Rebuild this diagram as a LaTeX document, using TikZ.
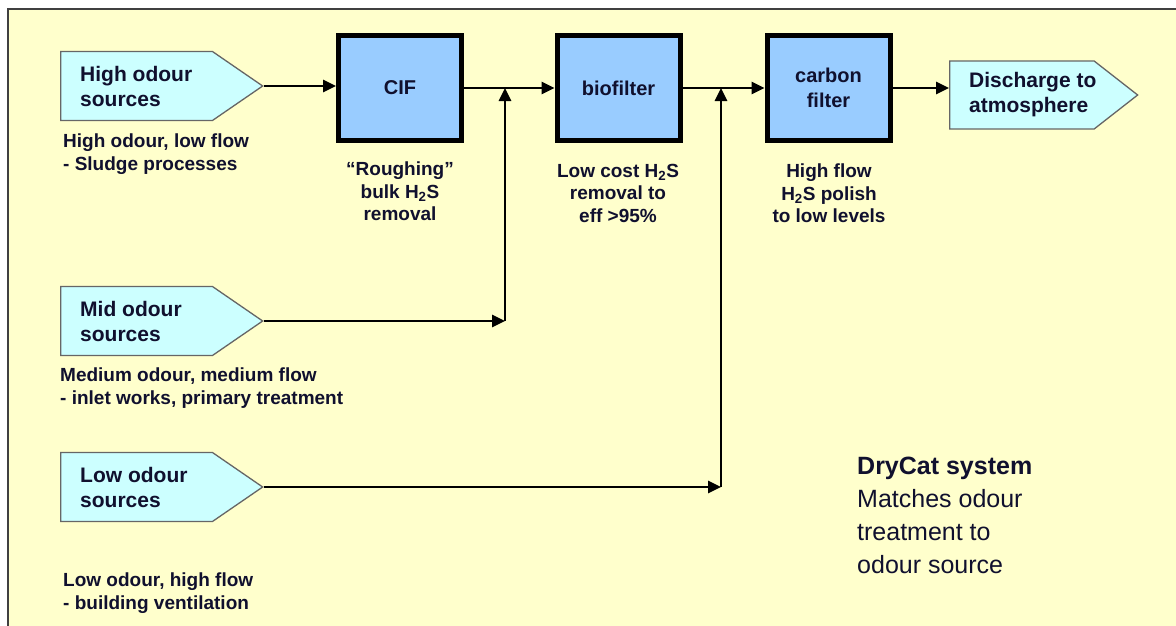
\documentclass[tikz,border=0pt]{standalone}
\usepackage{fontspec}
\setmainfont{Liberation Sans}
\usetikzlibrary{arrows.meta,shapes.symbols}
\definecolor{paper}{HTML}{FFFFCC}
\definecolor{srcfill}{HTML}{CCFFFF}
\definecolor{unitfill}{HTML}{99CCFF}
\definecolor{ink}{HTML}{10102E}
\newcommand{\hts}{H\textsubscript{2}S}
\begin{document}
\begin{tikzpicture}[x=1pt,y=-1pt,
		src/.style={shape=signal, signal to=east, signal pointer angle=69, draw=black!60, line width=1.3pt, fill=srcfill, minimum width=202pt, minimum height=69pt, inner sep=0pt, anchor=west},
		srctext/.style={anchor=west, xshift=20pt, inner sep=0pt, text=ink, align=left, font=\bfseries\fontsize{21}{25}\selectfont},
		unit/.style={draw, line width=5pt, fill=unitfill, minimum width=123pt, minimum height=105pt, text=ink, align=center, font=\bfseries\fontsize{20}{25}\selectfont},
		note/.style={text=ink, inner sep=0pt, font=\bfseries\fontsize{19}{22.5}\selectfont},
		flow/.style={line width=2.6pt, -{Triangle[length=13pt,width=12pt]}}]
	\useasboundingbox (0,0) rectangle (1176,626);
	\fill[white] (0,0) rectangle (1176,626);
	\filldraw[fill=paper, draw=black!75, line width=2pt] (8,9) rectangle (1190,640);
	% sources
	\node[src, label={[srctext]west:High odour\\sources}] (high) at (60,86) {};
	\node[src, label={[srctext]west:Mid odour\\sources}] (mid) at (60,321) {};
	\node[src, label={[srctext]west:Low odour\\sources}] (low) at (60,487) {};
	\node[note, anchor=north west, align=left] (highnote) at (63,134) {High odour, low flow\\- Sludge processes};
	\node[note, anchor=north west, align=left] (midnote) at (60,368) {Medium odour, medium flow\\- inlet works, primary treatment};
	\node[note, anchor=north west, align=left] (lownote) at (63,573) {Low odour, high flow\\- building ventilation};
	% treatment units
	\node[unit] (cif) at (400,88) {CIF};
	\node[unit] (bio) at (618.5,88) {biofilter};
	\node[unit] (carb) at (828.5,88) {carbon\\filter};
	\node[note, anchor=north, align=center] (cifnote) at (400,162) {“Roughing”\\bulk \hts\\removal};
	\node[note, anchor=north, align=center] (bionote) at (618,164) {Low cost \hts\\removal to\\eff >95\%};
	\node[note, anchor=north, align=center] (carbnote) at (829,164) {High flow\\\hts{} polish\\to low levels};
	\node[src, signal pointer angle=76, minimum width=188pt, minimum height=68pt, label={[srctext]west:Discharge to\\atmosphere}] (dis) at (949,95) {};
	% flows
	\coordinate (j1) at (505,88);
	\coordinate (j2) at (721,88);
	\draw[flow] (high.east) -- (high.east -| cif.west);
	\draw[flow] (cif) -- (bio);
	\draw[flow] (bio) -- (carb);
	\draw[flow] (carb.east) -- (carb.east -| dis.west);
	\draw[flow] (mid.east) -- (mid.east -| j1);
	\draw[flow] (mid.east -| j1) -- (j1);
	\draw[flow] (low.east) -- (low.east -| j2);
	\draw[flow] (low.east -| j2) -- (j2);
	\node[anchor=north west, inner sep=0pt, text=ink, align=left, font=\fontsize{25}{33}\selectfont] (drycat) at (857,457) {\textbf{DryCat system}\\Matches odour\\treatment to\\odour source};
\end{tikzpicture}
\end{document}
